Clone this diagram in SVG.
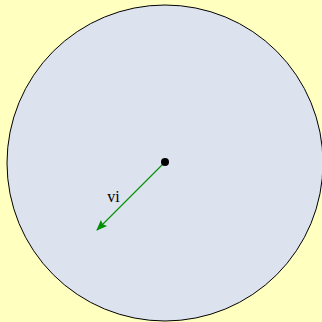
<svg xmlns="http://www.w3.org/2000/svg" width="322" height="322" viewBox="0 0 322 322">
<defs>
<style>
.bg{fill:#ffffc0}
.disk{fill:#dce3ef;stroke:#000;stroke-width:1}
.vec{stroke:#008f00;stroke-width:1.1;fill:none}
.lbl{font-family:"Liberation Serif","DejaVu Serif",serif;font-size:16px;fill:#000}
</style>
<marker id="ah" viewBox="0 0 10 10" refX="9" refY="5" markerWidth="11" markerHeight="11" markerUnits="userSpaceOnUse" orient="auto">
<path d="M0,1 L10,5 L0,9 L1.5,5 Z" fill="#008f00"/>
</marker>
</defs>
<rect class="bg" x="0" y="0" width="322" height="322"/>
<g id="disk">
<circle class="disk" cx="165" cy="163" r="158"/>
</g>
<g id="connectors">
<line class="vec" x1="165" y1="162" x2="97" y2="230" marker-end="url(#ah)"/>
</g>
<g id="center">
<circle cx="165" cy="162" r="4" fill="#000"/>
</g>
<g id="label">
<text class="lbl" x="113.5" y="202" text-anchor="middle">vi</text>
</g>
</svg>
